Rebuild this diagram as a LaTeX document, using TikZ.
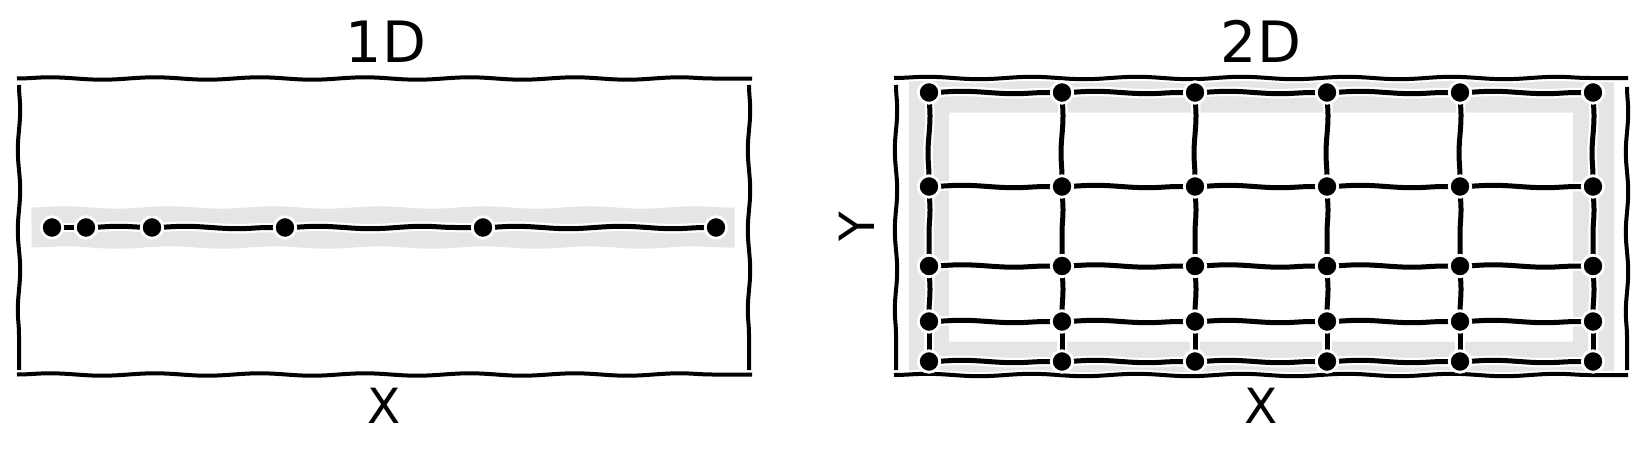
\documentclass[tikz,border=0pt]{standalone}
\usepackage{fontspec}
\setmainfont{DejaVu Sans}
\usetikzlibrary{decorations.pathmorphing}
\definecolor{bandgray}{RGB}{229,229,229}
\begin{document}
\begin{tikzpicture}[x=1pt,y=-1pt,
  wig/.style={decorate,decoration={snake,amplitude=1.2pt,segment length=105pt}},
  vwig/.style={decorate,decoration={snake,amplitude=1.2pt,segment length=80pt}},
  swig/.style={decorate,decoration={snake,amplitude=1pt,segment length=75pt}},
  whiteline/.style={draw=white,line width=9.5pt,line cap=butt},
  blackline/.style={draw=black,line width=5pt,line cap=butt},
  whitespine/.style={draw=white,line width=8pt,line cap=butt},
  blackspine/.style={draw=black,line width=4pt,line cap=butt},
  dot/.style={circle,fill=black,draw=white,line width=2.8pt,minimum size=21.5pt,inner sep=0pt},
  titletext/.style={font=\fontsize{57}{68}\selectfont,inner sep=0pt,anchor=base},
  labeltext/.style={font=\fontsize{48.5}{58}\selectfont,inner sep=0pt,anchor=base}]
\useasboundingbox (0,0) rectangle (1645,452);

% ---------------- 1D panel ----------------
\coordinate (b1) at (31.5,227.5);
\coordinate (b2) at (734.5,227.5);
\draw[draw=bandgray,line width=40pt,wig] (b1) -- (b2);

\coordinate (L1t) at (19,85);   \coordinate (L1b) at (19,370);
\coordinate (R1t) at (749,85);  \coordinate (R1b) at (749,370);
\coordinate (T1l) at (17,78.5); \coordinate (T1r) at (752,78.5);
\coordinate (B1l) at (17,374.5);\coordinate (B1r) at (752,374.5);
\foreach \p/\q in {L1t/L1b,R1t/R1b}{
  \draw[whitespine,vwig] (\p) -- (\q);
  \draw[blackspine,vwig] (\p) -- (\q);
}
\foreach \p/\q in {T1l/T1r,B1l/B1r}{
  \draw[whitespine,wig] (\p) -- (\q);
  \draw[blackspine,wig] (\p) -- (\q);
}

\foreach \x [count=\i] in {52,86,152,285,483,716}{
  \coordinate (a\i) at (\x,227.5);
}
\foreach \i [evaluate=\i as \j using int(\i+1)] in {1,...,5}{
  \draw[whiteline,wig] (a\i) -- (a\j);
}
\foreach \i [evaluate=\i as \j using int(\i+1)] in {1,...,5}{
  \draw[blackline,wig] (a\i) -- (a\j);
}
\foreach \i in {1,...,6}{
  \node[dot] (n\i) at (a\i) {};
}

\node[titletext] (t1) at (386,63) {1D};
\node[labeltext] (x1) at (384.5,423) {X};

% ---------------- 2D panel ----------------
\begin{scope}
  \clip (894,80) rectangle (1628,373);
  \fill[bandgray,even odd rule] (909,72.5) rectangle (1614,381.5)
                                (949,112.5) rectangle (1573,341.5);
\end{scope}

\coordinate (L2t) at (896,85);   \coordinate (L2b) at (896,370);
\coordinate (R2t) at (1627,87);  \coordinate (R2b) at (1627,370);
\coordinate (T2l) at (894,78);   \coordinate (T2r) at (1628,78);
\coordinate (B2l) at (894,375);  \coordinate (B2r) at (1628,375);
\foreach \p/\q in {L2t/L2b,R2t/R2b}{
  \draw[whitespine,vwig] (\p) -- (\q);
  \draw[blackspine,vwig] (\p) -- (\q);
}
\foreach \p/\q in {T2l/T2r,B2l/B2r}{
  \draw[whitespine,wig] (\p) -- (\q);
  \draw[blackspine,wig] (\p) -- (\q);
}

\foreach \y [count=\r] in {92.5,186.5,266,321.5,361.5}{
  \foreach \x [count=\c] in {929,1062,1195,1327,1460,1593}{
    \coordinate (g\r-\c) at (\x,\y);
  }
}
% white underlays
\foreach \r in {1,...,5}{
  \foreach \c [evaluate=\c as \n using int(\c+1)] in {1,...,5}{
    \draw[whiteline,wig] (g\r-\c) -- (g\r-\n);
  }
}
\foreach \c in {1,...,6}{
  \foreach \r [evaluate=\r as \n using int(\r+1)] in {1,...,4}{
    \draw[whiteline,swig] (g\r-\c) -- (g\n-\c);
  }
}
% black lines
\foreach \r in {1,...,5}{
  \foreach \c [evaluate=\c as \n using int(\c+1)] in {1,...,5}{
    \draw[blackline,wig] (g\r-\c) -- (g\r-\n);
  }
}
\foreach \c in {1,...,6}{
  \foreach \r [evaluate=\r as \n using int(\r+1)] in {1,...,4}{
    \draw[blackline,swig] (g\r-\c) -- (g\n-\c);
  }
}
% dots
\foreach \r in {1,...,5}{
  \foreach \c in {1,...,6}{
    \node[dot] (p\r-\c) at (g\r-\c) {};
  }
}

\node[titletext] (t2) at (1261,63) {2D};
\node[labeltext] (x2) at (1261,423) {X};
\node[labeltext,rotate=90] (y2) at (874,227) {Y};
\end{tikzpicture}
\end{document}
